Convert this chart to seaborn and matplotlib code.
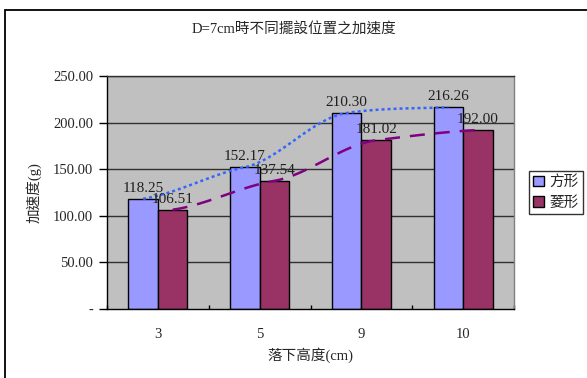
import numpy as np
import pandas as pd
import matplotlib
matplotlib.use("Agg")
import matplotlib.pyplot as plt
from matplotlib.patches import Rectangle
import seaborn as sns

# Drop heights (cm) and measured accelerations (g) for the two placements
heights = ["3", "5", "9", "10"]
square_vals = [118.25, 152.17, 210.30, 216.26]
diamond_vals = [106.51, 137.54, 181.02, 192.00]
series_names = ["方形", "菱形"]
ytick_vals = [0, 50, 100, 150, 200, 250]
ytick_labels = ["-", "50.00", "100.00", "150.00", "200.00", "250.00"]

title = "D=7cm時不同擺設位置之加速度"
xlabel = "落下高度(cm)"
ylabel = "加速度(g)"

bar_colors = ["#9999FF", "#993366"]
trend_colors = ["#3366FF", "#800080"]

df = pd.DataFrame({
    "height": heights * 2,
    "accel": square_vals + diamond_vals,
    "shape": [series_names[0]] * len(heights) + [series_names[1]] * len(heights),
})

sns.set_theme(style="white")
plt.rcParams["font.family"] = ["Liberation Serif", "Noto Sans CJK TC", "DejaVu Sans"]
plt.rcParams["font.size"] = 10

fig = plt.figure(figsize=(5.87, 3.78), dpi=100)
fig.patch.set_facecolor("white")
ax = fig.add_axes([107 / 587, 1 - 309 / 378, (514 - 107) / 587, (309 - 76) / 378])
ax.set_facecolor("#C0C0C0")

sns.barplot(data=df, x="height", y="accel", hue="shape", order=heights,
            hue_order=series_names, palette=bar_colors, width=0.58, gap=0,
            edgecolor="black", linewidth=1.0, saturation=1, ax=ax, zorder=2,
            legend=True)

ax.set_ylim(0, 250)
ax.set_xlim(-0.5, len(heights) - 0.5)
ax.set_yticks(ytick_vals)
ax.set_yticklabels(ytick_labels)
for y in ytick_vals[1:]:
    ax.axhline(y, color="#303030", lw=1.0, zorder=1)

ax.tick_params(axis="y", which="major", direction="out", length=6, width=1,
               color="black", left=True, pad=4, labelsize=10.5)
ax.tick_params(axis="x", which="major", length=0, pad=14, labelsize=10.5)
ax.set_xticks(np.arange(len(heights) + 1) - 0.5, minor=True)
ax.tick_params(axis="x", which="minor", direction="in", length=3, width=1,
               color="black", bottom=True)

for side in ["left", "bottom"]:
    ax.spines[side].set_color("black")
    ax.spines[side].set_linewidth(1.0)
ax.spines["top"].set_color("#303030")
ax.spines["right"].set_color("#808080")
for side in ["top", "right"]:
    ax.spines[side].set_linewidth(1.0)

ax.set_xlabel(xlabel, fontsize=10.5, labelpad=4)
ax.set_ylabel(ylabel, fontsize=10.5, labelpad=8)
fig.text(0.5, 1 - 30 / 378, title, ha="center", va="center", fontsize=10.5)


def smooth_curve(xs, ys, tension=0.5, n=40):
    xs = np.asarray(xs, float)
    ys = np.asarray(ys, float)
    m = np.gradient(ys, xs) * tension
    px, py = [], []
    for i in range(len(xs) - 1):
        h = xs[i + 1] - xs[i]
        t = np.linspace(0, 1, n)
        h00 = 2 * t**3 - 3 * t**2 + 1
        h10 = t**3 - 2 * t**2 + t
        h01 = -2 * t**3 + 3 * t**2
        h11 = t**3 - t**2
        px.append(xs[i] + t * h)
        py.append(h00 * ys[i] + h10 * h * m[i] + h01 * ys[i + 1] + h11 * h * m[i + 1])
    return np.concatenate(px), np.concatenate(py)


# Value labels and smoothed trend lines, taken from the drawn bars
bars = [p for p in ax.patches if p.get_height() > 0]
n = len(heights)
groups = [bars[:n], bars[n:]]
styles = [dict(ls=(0, (1.2, 1.2)), lw=1.8), dict(ls=(0, (6, 4)), lw=1.8)]
for k, grp in enumerate(groups):
    grp = sorted(grp, key=lambda p: p.get_x())
    cx = [p.get_x() + p.get_width() / 2 for p in grp]
    cy = [p.get_height() for p in grp]
    for x, y in zip(cx, cy):
        ax.annotate(f"{y:.2f}", (x, y), xytext=(0, 3), textcoords="offset points",
                    ha="center", va="bottom", fontsize=11, color="#202020",
                    zorder=5)
    sx, sy = smooth_curve(cx, cy)
    ax.plot(sx, sy, color=trend_colors[k], zorder=4, **styles[k])

handles, labels = ax.get_legend_handles_labels()
ax.legend_.remove()
leg = fig.legend(handles, labels, loc="upper left",
                 bbox_to_anchor=(529 / 587, 1 - 171 / 378),
                 frameon=True, fancybox=False, fontsize=10.5,
                 handlelength=0.7, handleheight=0.7, handletextpad=0.4,
                 borderpad=0.3, labelspacing=0.45, borderaxespad=0)
leg.get_frame().set_edgecolor("black")
leg.get_frame().set_linewidth(1.0)

# Outer chart frame
fig.patches.append(Rectangle((5 / 587, -0.2), 1.2, 1.2 - 10 / 378,
                             transform=fig.transFigure, fill=False,
                             edgecolor="black", lw=1.3, zorder=0))

fig.savefig("out.png", dpi=100)
